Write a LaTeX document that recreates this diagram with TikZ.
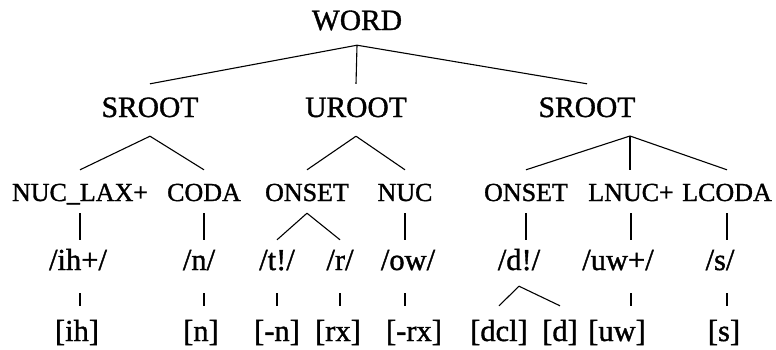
\documentclass[tikz,border=0pt]{standalone}
\usepackage{fontspec}
\setmainfont{Liberation Serif}[FakeBold=1.2]
\begin{document}
\begin{tikzpicture}[x=1pt,y=1pt,
  big/.style={anchor=base, inner sep=0pt, font=\fontsize{29.5}{31}\selectfont},
  mid/.style={anchor=base, inner sep=0pt, font=\fontsize{26}{28}\selectfont},
  sml/.style={anchor=base, inner sep=0pt, font=\fontsize{30.5}{32}\selectfont},
  l1/.style={big, text height=20pt, text depth=15pt},
  l2/.style={big, text height=33pt, text depth=19pt},
  l3/.style={mid, text height=31pt, text depth=12pt},
  l4/.style={sml, text height=30pt, text depth=16pt},
  l5/.style={sml, text height=35pt, text depth=0pt},
  edge/.style={line width=1.1pt},
  stem/.style={edge, shorten <=7pt}]
\useasboundingbox (0,0) rectangle (776,-349);
% level 1
\node[l1] (word) at (357,-30) {WORD};
% level 2
\node[l2] (sr1) at (150,-117) {SROOT};
\node[l2] (ur) at (356,-117) {UROOT};
\node[l2] (sr2) at (587,-117) {SROOT};
\coordinate (sr2a) at (630,-136);
% level 3
\node[l3] (nl) at (80,-201) {NUC\_LAX+};
\node[l3] (cd) at (204,-201) {CODA};
\node[l3] (on1) at (307,-201) {ONSET};
\node[l3] (nu) at (405,-201) {NUC};
\node[l3] (on2) at (526,-201) {ONSET};
\node[l3] (ln) at (631,-201) {LNUC+};
\node[l3] (lc) at (727,-201) {LCODA};
% level 4
\node[l4] (ih) at (78,-270) {/ih+/};
\node[l4] (n) at (199,-270) {/n/};
\node[l4] (t) at (277,-270) {/t!/};
\node[l4] (r) at (340,-270) {/r/};
\node[l4] (ow) at (408,-270) {/ow/};
\node[l4] (d) at (519,-270) {/d!/};
\node[l4] (uw) at (618,-270) {/uw+/};
\node[l4] (s) at (720,-270) {/s/};
% level 5
\node[l5] (bih) at (77,-341) {[ih]};
\node[l5] (bn) at (201,-341) {[n]};
\node[l5] (bmn) at (277,-341) {[-n]};
\node[l5] (brx) at (338,-341) {[rx]};
\node[l5] (bmrx) at (414,-341) {[-rx]};
\node[l5] (bdcl) at (499,-341) {[dcl]};
\node[l5] (bd) at (560,-341) {[d]};
\node[l5] (buw) at (617,-341) {[uw]};
\node[l5] (bs) at (724,-341) {[s]};
% edges level 1-2
\draw[edge] (word.south) -- (sr1.north);
\draw[edge] (word.south) -- (ur.north);
\draw[edge] (word.south) -- (sr2.north);
% edges level 2-3
\draw[edge] (sr1.south) -- (nl.north);
\draw[edge] (sr1.south) -- (cd.north);
\draw[edge] (ur.south) -- (on1.north);
\draw[edge] (ur.south) -- (nu.north);
\draw[edge] (sr2a) -- (on2.north);
\draw[edge] (sr2a) -- (sr2a |- ln.north);
\draw[edge] (sr2a) -- (lc.north);
% edges level 3-4
\draw[edge] (nl.south) -- (nl.south |- ih.north);
\draw[edge] (cd.south) -- (cd.south |- n.north);
\draw[edge] (on1.south) -- (t.north);
\draw[edge] (on1.south) -- (r.north);
\draw[edge] (nu.south) -- (nu.south |- ow.north);
\draw[edge] (on2.south) -- (on2.south |- d.north);
\draw[edge] (ln.south) -- (ln.south |- uw.north);
\draw[edge] (lc.south) -- (lc.south |- s.north);
% edges level 4-5
\draw[stem] (ih.south -| nl.south) -- (bih.north -| nl.south);
\draw[stem] (n.south -| cd.south) -- (bn.north -| cd.south);
\draw[stem] (t.south) -- (t.south |- bmn.north);
\draw[stem] (r.south) -- (r.south |- brx.north);
\draw[stem] (ow.south -| nu.south) -- (bmrx.north -| nu.south);
\draw[edge] (d.south) -- (bdcl.north);
\draw[edge] (d.south) -- (bd.north);
\draw[stem] (uw.south -| ln.south) -- (buw.north -| ln.south);
\draw[stem] (s.south -| lc.south) -- (bs.north -| lc.south);
\end{tikzpicture}
\end{document}
